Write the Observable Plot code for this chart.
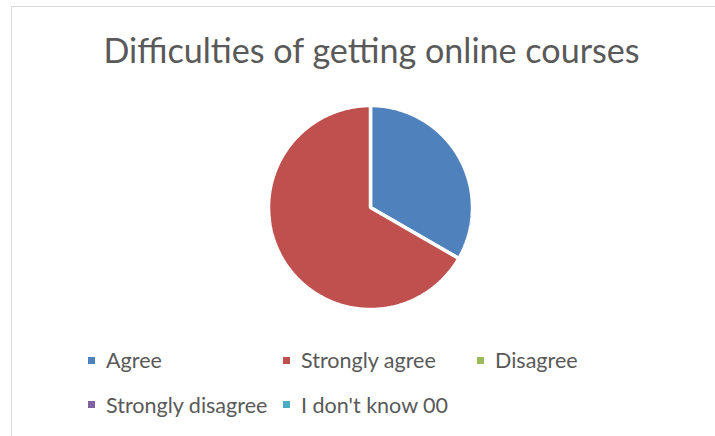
<!DOCTYPE html>
<html><head><meta charset="utf-8">
<script src="https://cdn.jsdelivr.net/npm/d3@7"></script>
<script src="https://cdn.jsdelivr.net/npm/@observablehq/plot@0.6"></script>
<style>
html,body{margin:0;padding:0;background:#fff;overflow:hidden;}
#wrap{position:relative;width:715px;height:436px;overflow:hidden;font-family:Lato, sans-serif;background:#fff;}
#frame{position:absolute;left:11px;top:6px;width:760px;height:480px;border:1px solid #d9d9d9;box-sizing:border-box;}
#pie{position:absolute;}
#overlay{position:absolute;left:0;top:0;}
</style></head><body><div id="wrap"><div id="frame"></div><div id="pie"></div></div>
<script>
const categories = ["Agree", "Strongly agree", "Disagree", "Strongly disagree", "I don't know 00"];
const values = [1, 2, 0, 0, 0];
const colors = ["#4F81BD", "#C0504D", "#9BBB59", "#8064A2", "#4BACC6"];
const titleText = "Difficulties of getting online courses";

const FONT = "Lato";
const TEXT = "#595959";

const data = categories.map((c, i) => ({category: c, value: values[i]}));
const arcs = d3.pie().sort(null).value(d => d.value)(data);
const pts = [];
for (const a of arcs) {
  if (a.endAngle - a.startAngle <= 0) continue;
  const n = Math.max(2, Math.ceil((a.endAngle - a.startAngle) / 0.01));
  pts.push({category: a.data.category, px: 0, py: 0});
  for (let k = 0; k <= n; k++) {
    const t = a.startAngle + (a.endAngle - a.startAngle) * k / n;
    pts.push({category: a.data.category, px: Math.sin(t), py: Math.cos(t)});
  }
}

const R = 102, CX = 369.7, CY = 206.7, M = 2;
const pie = Plot.plot({
  width: 2 * R + 2 * M, height: 2 * R + 2 * M, margin: M,
  x: {domain: [-1, 1], axis: null},
  y: {domain: [-1, 1], axis: null},
  color: {domain: categories, range: colors},
  marks: [
    Plot.line(pts, {x: "px", y: "py", z: "category", fill: "category", stroke: "white", strokeWidth: 3.5, strokeLinejoin: "miter", curve: "linear-closed"})
  ]
});
const pieDiv = document.getElementById("pie");
pieDiv.style.left = (CX - R - M) + "px";
pieDiv.style.top = (CY - R - M) + "px";
pieDiv.appendChild(pie);
const colorScale = pie.scale("color");

// font fitting
const ctx = document.createElement("canvas").getContext("2d");
function fit(text, target) {
  ctx.font = `100px ${FONT}`;
  return 100 * target / ctx.measureText(text).width;
}
const titleSize = fit(titleText, 537);
const legendSize = fit("Strongly disagree", 162);

const svg = d3.select("#wrap").append("svg").attr("id", "overlay")
  .attr("width", 715).attr("height", 436)
  .style("font-family", FONT);
svg.append("text").attr("x", 371.5).attr("y", 63).attr("text-anchor", "middle")
  .attr("fill", TEXT).attr("font-size", titleSize).text(titleText);

const legendPos = [[88, 357], [283, 357], [477, 357], [88, 401], [283, 401]];
const baselines = [368, 368, 368, 413, 413];
categories.forEach((c, i) => {
  const [x, y] = legendPos[i];
  svg.append("rect").attr("x", x).attr("y", y).attr("width", 7).attr("height", 7)
    .attr("fill", colorScale.apply(c));
  svg.append("text").attr("x", x + 18).attr("y", baselines[i])
    .attr("fill", TEXT).attr("font-size", legendSize).text(c);
});
</script>
</body></html>
